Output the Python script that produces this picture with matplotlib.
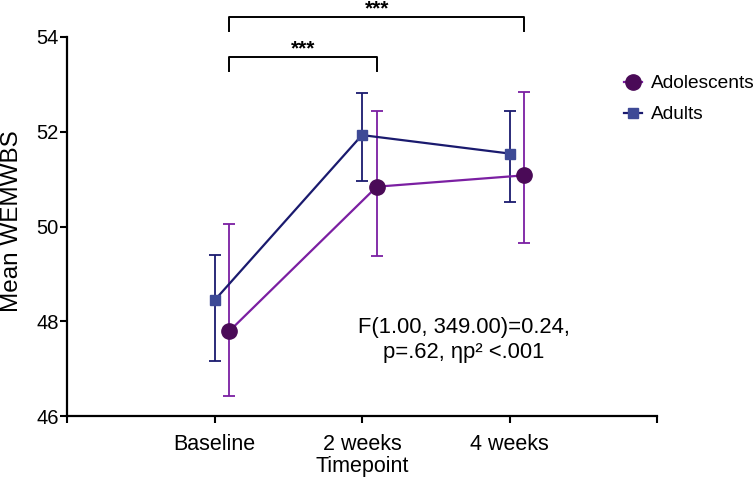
import numpy as np
from matplotlib import pyplot as plt

plt.rcParams['font.family'] = ['Liberation Sans', 'DejaVu Sans']

# Data
timepoints = ['Baseline', '2 weeks', '4 weeks']
x_pos = np.array([1, 2, 3])

adol_mean = [47.79, 50.84, 51.08]
adol_upper = [50.05, 52.43, 52.84]
adol_lower = [46.42, 49.38, 49.66]

adult_mean = [48.44, 51.93, 51.54]
adult_upper = [49.39, 52.82, 52.44]
adult_lower = [47.17, 50.96, 50.51]

stars = ['***', '***']
comparisons = [(0, 1), (0, 2)]

offset = 0.1

purple_line = '#7b1fa2'
purple_mark = '#4a0a57'
navy_line = '#1a1a6e'
navy_mark = '#3e4a96'

fig = plt.figure(figsize=(7.56, 4.83), dpi=100)
ax = fig.add_axes([67 / 756, 1 - 416 / 483, 590 / 756, 379 / 483])

# Adults
ya = np.array(adult_mean)
err_a = [ya - np.array(adult_lower), np.array(adult_upper) - ya]
ax.errorbar(x_pos, ya, yerr=err_a, fmt='none', ecolor=navy_line,
            elinewidth=1.3, capsize=4, capthick=1.3, zorder=2)
ax.plot(x_pos, ya, color=navy_line, lw=1.6, marker='s', ms=7.5,
        mfc=navy_mark, mec=navy_mark, label='Adults', zorder=3)

# Adolescents
yd = np.array(adol_mean)
err_d = [yd - np.array(adol_lower), np.array(adol_upper) - yd]
ax.errorbar(x_pos + offset, yd, yerr=err_d, fmt='none', ecolor=purple_line,
            elinewidth=1.3, capsize=4, capthick=1.3, zorder=2)
ax.plot(x_pos + offset, yd, color=purple_line, lw=1.6, marker='o', ms=11,
        mfc=purple_mark, mec=purple_mark, label='Adolescents', zorder=4)

ax.set_xlim(0, 4)
ax.set_ylim(46, 54)
ax.set_yticks([46, 48, 50, 52, 54])
ax.set_xticks([0, 1, 2, 3, 4])
ax.set_xticklabels([''] + timepoints + [''])
ax.tick_params(axis='both', width=1.5, length=5, color='black')
ax.tick_params(axis='x', labelsize=15.5, pad=8)
ax.tick_params(axis='y', labelsize=14.5, pad=1)

for s in ['top', 'right']:
    ax.spines[s].set_visible(False)
for s in ['left', 'bottom']:
    ax.spines[s].set_linewidth(1.6)

ax.set_xlabel('Timepoint', fontsize=15.5, labelpad=1)
fig.text(12 / 756, 1 - 221 / 483, 'Mean WEMWBS', rotation=90,
         ha='center', va='center', fontsize=17.5)

# Significance brackets
heights = [53.58, 54.43]
for (i, j), st, h in zip(comparisons, stars, heights):
    x1 = x_pos[i] + offset
    x2 = x_pos[j] + offset
    ax.plot([x1, x1, x2, x2], [h - 0.3, h, h, h - 0.3], color='black',
            lw=1.4, clip_on=False)
    ax.text((x1 + x2) / 2, h + 0.17, st, ha='center', va='center',
            fontsize=15, fontweight='bold', clip_on=False)

ax.text(2.69, 47.6, 'F(1.00, 349.00)=0.24,\np=.62, ηp² <.001',
        ha='center', va='center', fontsize=15.8, linespacing=1.25)

handles, labels = ax.get_legend_handles_labels()
fig.legend(handles[::-1], labels[::-1], loc='upper left',
           bbox_to_anchor=(624 / 756, 1 - 75 / 483), frameon=False,
           fontsize=13.8, handlelength=0.95, handletextpad=0.45,
           labelspacing=0.7, borderaxespad=0, borderpad=0)

fig.savefig('out.png', dpi=100)
